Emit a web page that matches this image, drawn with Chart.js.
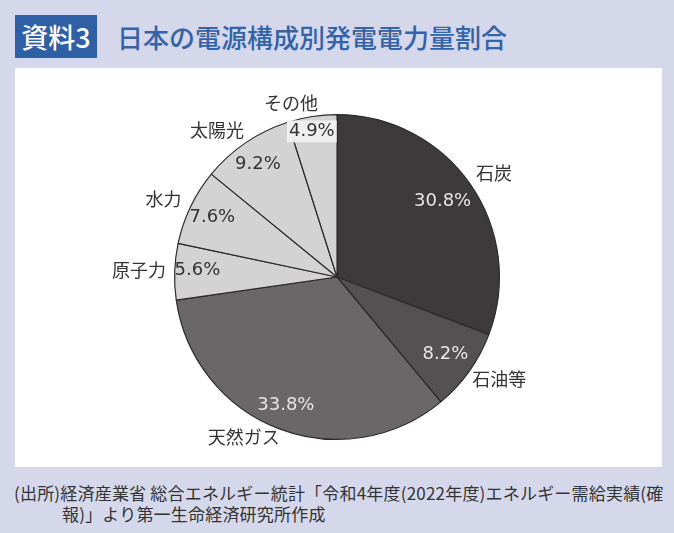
<!DOCTYPE html>
<html lang="ja">
<head>
<meta charset="UTF-8">
<title>日本の電源構成別発電電力量割合</title>
<script src="https://cdn.jsdelivr.net/npm/chart.js"></script>
<style>
  html, body { margin: 0; padding: 0; }
  body { width: 674px; height: 533px; background: #d5d8ea; position: relative; overflow: hidden;
         font-family: "Noto Sans CJK JP", "Noto Sans", sans-serif; }
  #badge { position: absolute; left: 15px; top: 15px; width: 82px; height: 43px; background: #2f5fa5;
           color: #fff; font-size: 27px; font-weight: 500; line-height: 43px; text-align: center; }
  #title { position: absolute; left: 117px; top: 16px; color: #3463a7; font-size: 26px; font-weight: 500;
           line-height: 42px; }
  #panel { position: absolute; left: 15px; top: 68px; width: 647px; height: 399px; background: #fff; }
  #note { position: absolute; left: 14px; top: 482px; width: 660px; color: #333; font-size: 17px;
          line-height: 21px; letter-spacing: 0.2px; }
  #note .l2 { padding-left: 48px; }
</style>
</head>
<body>
<div id="badge">資料3</div>
<div id="title">日本の電源構成別発電電力量割合</div>
<div id="panel"><canvas id="pie" width="647" height="399"></canvas></div>
<div id="note">(出所)経済産業省 総合エネルギー統計「令和4年度(2022年度)エネルギー需給実績(確<div class="l2">報)」より第一生命経済研究所作成</div></div>

<script>
    // data (clockwise from 12 o'clock)
    const sources = ['石炭', '石油等', '天然ガス', '原子力', '水力', '太陽光', 'その他'];
    const shares = [30.8, 8.2, 33.8, 5.6, 7.6, 9.2, 4.9];
    const pctLabels = ['30.8%', '8.2%', '33.8%', '5.6%', '7.6%', '9.2%', '4.9%'];

    const fills = ['#3c3a3b', '#535152', '#696768', '#d3d3d3', '#d3d3d3', '#d3d3d3', '#d3d3d3'];
    const pctColors = ['#e6e6e6', '#e6e6e6', '#e6e6e6', '#333', '#333', '#333', '#333'];
    // label placement: [angle shift in degrees, radius factor]
    const namePos = [[1, 1.16], [-3.4, 1.18], [9.2, 1.14], [0, 1.22], [-1.6, 1.17], [-5, 1.17], [-6, 1.11]];
    const pctPos = [[-1, 0.80], [0, 0.82], [0.7, 0.85], [0.7, 0.86], [-0.2, 0.85], [-0.8, 0.85], [-1, 0.91]];

    const pieLabels = {
        id: 'pieLabels',
        afterDatasetsDraw(chart) {
            const ctx = chart.ctx;
            const arcs = chart.getDatasetMeta(0).data;
            ctx.save();
            ctx.textAlign = 'center';
            ctx.textBaseline = 'middle';
            arcs.forEach((arc, i) => {
                const p = arc.getProps(['x', 'y', 'startAngle', 'endAngle', 'outerRadius'], true);
                const mid = (p.startAngle + p.endAngle) / 2;
                // category name outside
                let a = mid + namePos[i][0] * Math.PI / 180;
                let r = p.outerRadius * namePos[i][1];
                ctx.font = '18px "Noto Sans CJK JP"';
                ctx.fillStyle = '#333';
                ctx.fillText(sources[i], p.x + Math.cos(a) * r, p.y + Math.sin(a) * r);
                // percentage inside
                a = mid + pctPos[i][0] * Math.PI / 180;
                r = p.outerRadius * pctPos[i][1];
                const tx = p.x + Math.cos(a) * r, ty = p.y + Math.sin(a) * r;
                ctx.font = '18px "DejaVu Sans"';
                if (i === shares.length - 1) {
                    const w = ctx.measureText(pctLabels[i]).width;
                    ctx.fillStyle = '#efefef';
                    ctx.fillRect(tx - w / 2 - 2, ty - 11, w + 4, 22);
                }
                ctx.fillStyle = pctColors[i];
                ctx.fillText(pctLabels[i], tx, ty);
            });
            ctx.restore();
        }
    };

    new Chart(document.getElementById('pie'), {
        type: 'pie',
        data: {
            labels: sources,
            datasets: [{
                data: shares,
                backgroundColor: fills,
                borderColor: '#2b2b2b',
                borderWidth: 1.2
            }]
        },
        options: {
            responsive: false,
            animation: false,
            layout: { padding: { top: 46, bottom: 27, left: 0, right: 3 } },
            plugins: { legend: { display: false }, tooltip: { enabled: false } }
        },
        plugins: [pieLabels]
    });
</script>
</body>
</html>
